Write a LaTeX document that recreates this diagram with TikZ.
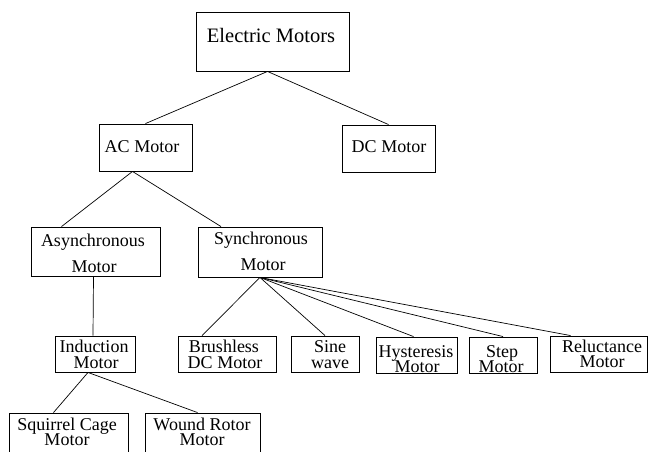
\documentclass[tikz,border=0pt]{standalone}
\usepackage{fontspec}
\setmainfont{Liberation Serif}
\begin{document}
\begin{tikzpicture}[x=1pt,y=-1pt,
  box/.style={draw=black, line width=0.9pt, inner sep=0pt, rectangle},
  lbl/.style={inner sep=0pt, anchor=base, font=\fontsize{18}{18}\selectfont},
  biglbl/.style={inner sep=0pt, anchor=base, font=\fontsize{20.5}{20.5}\selectfont},
  link/.style={draw=black, line width=0.7pt}]
\useasboundingbox (0,0) rectangle (649,451);
\clip (0,0) rectangle (649,451);
% boxes
\node[box, minimum width=153pt, minimum height=59pt] (em) at (272.5,41.5) {};
\node[box, minimum width=93pt, minimum height=47pt] (ac) at (145.5,147.5) {};
\node[box, minimum width=93pt, minimum height=47pt] (dc) at (388.5,148.5) {};
\node[box, minimum width=129pt, minimum height=49pt] (as) at (95.5,251.5) {};
\node[box, minimum width=124pt, minimum height=50pt] (sy) at (260,252) {};
\node[box, minimum width=80pt, minimum height=36pt] (in) at (95,354) {};
\node[box, minimum width=119pt, minimum height=47pt] (sq) at (68.5,436.5) {};
\node[box, minimum width=115pt, minimum height=47pt] (wr) at (202.5,436.5) {};
\node[box, minimum width=98pt, minimum height=36pt] (br) at (227,354) {};
\node[box, minimum width=68pt, minimum height=36pt] (sw) at (325,354) {};
\node[box, minimum width=81pt, minimum height=36pt] (hy) at (416.5,355) {};
\node[box, minimum width=68pt, minimum height=36pt] (st) at (503,355) {};
\node[box, minimum width=97pt, minimum height=36pt] (re) at (598.5,354) {};
% labels
\node[biglbl] (tem) at (271,42) {Electric Motors};
\node[lbl] (tac) at (142,152) {AC Motor};
\node[lbl] (tdc) at (389,152) {DC Motor};
\node[lbl] (tas1) at (93,246) {Asynchronous};
\node[lbl] (tas2) at (94,272) {Motor};
\node[lbl] (tsy1) at (261,244) {Synchronous};
\node[lbl] (tsy2) at (263,270) {Motor};
\node[lbl] (tin1) at (94,352) {Induction};
\node[lbl] (tin2) at (96,368) {Motor};
\node[lbl] (tsq1) at (67,430) {Squirrel Cage};
\node[lbl] (tsq2) at (67,445) {Motor};
\node[lbl] (twr1) at (202,430) {Wound Rotor};
\node[lbl] (twr2) at (202,445) {Motor};
\node[lbl] (tbr1) at (224,352) {Brushless};
\node[lbl] (tbr2) at (225,368) {DC Motor};
\node[lbl] (tsw1) at (330,352) {Sine};
\node[lbl] (tsw2) at (330,368) {wave};
\node[lbl] (thy1) at (416,357) {Hysteresis};
\node[lbl] (thy2) at (417,372) {Motor};
\node[lbl] (tst1) at (502,357) {Step};
\node[lbl] (tst2) at (501,372) {Motor};
\node[lbl] (tre1) at (602,352) {Reluctance};
\node[lbl] (tre2) at (602,367) {Motor};
% connectors
\draw[link] ([xshift=-5pt]em.south) -- (ac.north);
\draw[link] ([xshift=-5pt]em.south) -- (dc.north);
\draw[link] ([xshift=-13pt]ac.south) -- ([xshift=-34pt]as.north);
\draw[link] ([xshift=-13pt]ac.south) -- ([xshift=-39pt]sy.north);
\draw[link] ([xshift=-2pt]as.south) -- ([xshift=-2pt]in.north);
\draw[link] ([xshift=-7pt]in.south) -- ([xshift=-15pt]sq.north);
\draw[link] ([xshift=-7pt]in.south) -- ([xshift=-5pt]wr.north);
\draw[link] (sy.south) -- ([xshift=-25pt]br.north);
\draw[link] (sy.south) -- (sw.north);
\draw[link] (sy.south) -- ([xshift=-3pt]hy.north);
\draw[link] (sy.south) -- (st.north);
\draw[link] (sy.south) -- ([xshift=-28pt]re.north);
\end{tikzpicture}
\end{document}
